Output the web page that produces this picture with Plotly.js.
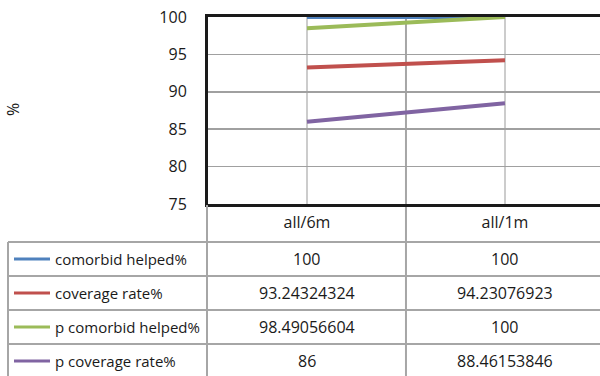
<!DOCTYPE html>
<html><head><meta charset="utf-8">
<script src="https://cdn.plot.ly/plotly-3.0.1.min.js"></script>
<style>html,body{margin:0;padding:0;background:#fff;overflow:hidden}</style>
</head><body><div id="chart" style="width:600px;height:376px"></div>
<script>
// ---- data ----
const categories = ['all/6m', 'all/1m'];
const seriesNames = ['comorbid helped%', 'coverage rate%', 'p comorbid helped%', 'p coverage rate%'];
const comorbidHelped = [100, 100];
const coverageRate = [93.24324324, 94.23076923];
const pComorbidHelped = [98.49056604, 100];
const pCoverageRate = [86, 88.46153846];
const yTicks = [75, 80, 85, 90, 95, 100];
const yTitle = '%';

// ---- styling ----
const seriesValues = [comorbidHelped, coverageRate, pComorbidHelped, pCoverageRate];
const colors = ['#4f81bd', '#c0504d', '#9bbb59', '#8064a2'];
const FONT = 'Open Sans, Noto Sans, sans-serif';
const TXT = '#1a1a1a';
const W = 600, H = 376, L = 208, T = 17, B = 204;
const px2x = p => (p - L) / (W - L);
const py2y = p => (B - p) / (B - T);

const traces = seriesValues.map((v, i) => ({
  type: 'scatter', mode: 'lines', x: categories, y: v, name: seriesNames[i],
  line: {color: colors[i], width: 4}, hoverinfo: 'skip', showlegend: false
}));

const rowEdges = [242, 276, 310, 344, 378];
const gridCol = '#a6a6a6';
const shapes = [];
const annotations = [];
// table horizontal lines
rowEdges.slice(0, 4).forEach(py => shapes.push({type: 'line', xref: 'paper', yref: 'paper',
  x0: px2x(8), x1: 1.02, y0: py2y(py), y1: py2y(py), line: {color: gridCol, width: 2}}));
// table verticals
shapes.push({type: 'line', xref: 'paper', yref: 'paper', x0: px2x(8), x1: px2x(8),
  y0: py2y(242), y1: py2y(380), line: {color: gridCol, width: 2}});
shapes.push({type: 'line', xref: 'paper', yref: 'paper', x0: px2x(207), x1: px2x(207),
  y0: py2y(205), y1: py2y(380), line: {color: gridCol, width: 2}});
shapes.push({type: 'line', xref: 'x', yref: 'paper', x0: 0.5, x1: 0.5,
  y0: 1, y1: py2y(380), line: {color: gridCol, width: 2}, layer: 'below'});

seriesNames.forEach((name, i) => {
  const cy = (rowEdges[i] + rowEdges[i + 1]) / 2;
  shapes.push({type: 'line', xref: 'paper', yref: 'paper', x0: px2x(14), x1: px2x(50),
    y0: py2y(cy), y1: py2y(cy), line: {color: colors[i], width: 3}});
  annotations.push({xref: 'paper', yref: 'paper', x: px2x(53), y: py2y(cy), xanchor: 'left',
    yanchor: 'middle', text: name, showarrow: false, font: {family: FONT, size: 15, color: TXT}});
  seriesValues[i].forEach((v, j) => annotations.push({xref: 'x', yref: 'paper', x: j, y: py2y(cy),
    xanchor: 'center', yanchor: 'middle', text: String(v), showarrow: false,
    font: {family: FONT, size: 16, color: TXT}}));
});
annotations.push({xref: 'paper', yref: 'paper', x: px2x(13), y: py2y(110), xanchor: 'center',
  yanchor: 'middle', text: yTitle, textangle: -90, showarrow: false, font: {family: FONT, size: 16, color: TXT}});

const layout = {
  width: W, height: H,
  margin: {l: L, r: 0, t: T, b: H - B, pad: 0},
  paper_bgcolor: '#fff', plot_bgcolor: '#fff',
  showlegend: false,
  font: {family: FONT, size: 16, color: TXT},
  xaxis: {type: 'category', range: [-0.5, 1.48], showgrid: true, gridcolor: '#cccccc', gridwidth: 2,
    zeroline: false, showline: true, mirror: true, linecolor: '#1a1a1a', linewidth: 3,
    ticks: 'outside', ticklen: 2, tickcolor: 'rgba(0,0,0,0)', tickfont: {family: FONT, size: 16, color: TXT},
    fixedrange: true},
  yaxis: {range: [75, 100], tickvals: yTicks, showgrid: true, gridcolor: '#a0a0a0', gridwidth: 1.5,
    zeroline: false, showline: true, linecolor: '#1a1a1a', linewidth: 3,
    ticks: 'outside', ticklen: 15, tickcolor: 'rgba(0,0,0,0)', tickfont: {family: FONT, size: 16, color: TXT},
    fixedrange: true},
  shapes: shapes,
  annotations: annotations
};
Plotly.newPlot('chart', traces, layout, {displayModeBar: false, staticPlot: true});
</script></body></html>
